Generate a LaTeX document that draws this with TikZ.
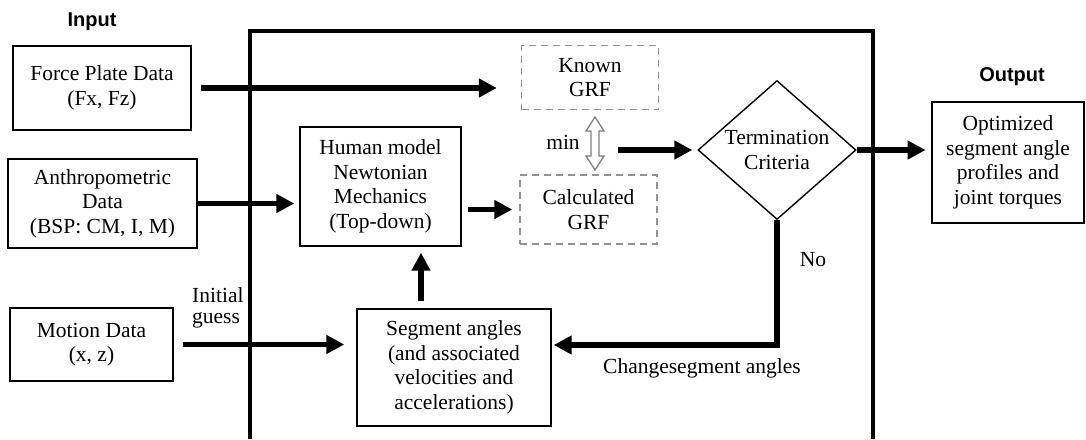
\documentclass[tikz,border=0pt]{standalone}
\usepackage{fontspec}
\setmainfont{Liberation Serif}
\newfontfamily\headfont{Liberation Sans}
\usetikzlibrary{arrows.meta,shapes.geometric}

\begin{document}
\begin{tikzpicture}[x=1pt,y=-1pt]
\tikzstyle{txt} = [font=\fontsize{21.5}{24.5}\selectfont, align=center]
\tikzstyle{box} = [txt, rectangle, draw=black, line width=1.4pt, inner sep=0pt]
\tikzstyle{grfbox} = [box, draw=gray!85, dash pattern=on 7pt off 5pt]
\tikzstyle{arr} = [line width=5.5pt, -{Triangle[length=18pt,width=18pt]}]
\tikzstyle{head} = [font=\headfont\bfseries\fontsize{20}{24}\selectfont]
\useasboundingbox (0,0) rectangle (1086,439);
% outer frame, open at the bottom
\draw[line width=4.5pt] (250,439) -- (250,31) -- (873,31) -- (873,439);
\node[head] (IN) at (92,22) {Input};
\node[head] (OUT) at (1012,77) {Output};
\node[box, minimum width=178pt, minimum height=84pt] (FP) at (102,88) {Force Plate Data\\(Fx, Fz)};
\node[box, minimum width=189pt, minimum height=89pt] (AN) at (102.5,203.5) {Anthropometric\\Data\\(BSP: CM, I, M)};
\node[box, minimum width=163pt, minimum height=73pt] (MD) at (91.5,344.5) {Motion Data\\(x, z)};
\node[box, minimum width=161pt, minimum height=119pt] (HM) at (380.5,186.5) {Human model\\Newtonian\\Mechanics\\(Top-down)};
\node[box, minimum width=194pt, minimum height=117pt] (SG) at (454,367.5) {Segment angles\\(and associated\\velocities and\\accelerations)};
\node[grfbox, minimum width=137pt, minimum height=64pt] (KN) at (590,77.5) {Known\\GRF};
\node[grfbox, minimum width=137pt, minimum height=69pt] (CG) at (588.5,209.5) {Calculated\\GRF};
\node[txt, diamond, draw, line width=1.4pt, aspect=1.14, inner sep=0pt, minimum width=158pt, minimum height=139pt] (TC) at (777,150) {Termination\\Criteria};
\node[box, line width=2.8pt, minimum width=152pt, minimum height=121pt] (OO) at (1008,162.5) {Optimized\\segment angle\\profiles and\\joint torques};
\coordinate (MC) at (595,143.5);
\coordinate (MO) at (618,150);

% hollow double arrow between the two GRF boxes
\draw[gray, line width=1.3pt, line join=miter] ([yshift=26.5pt]MC) -- ++(9,14) -- ++(-5,0) -- ++(0,25) -- ++(5,0) -- ++(-9,14) -- ++(-9,-14) -- ++(5,0) -- ++(0,-25) -- ++(-5,0) -- cycle;

\node[txt] (MINL) at (563,142) {min};
\node[txt] (NO) at (813,260) {No};
\node[txt] (CH) at (702,368) {Changesegment angles};
\node[txt, align=left, anchor=west, inner sep=0pt, font=\fontsize{21.5}{21}\selectfont] (IG) at (192,307.5) {Initial\\guess};

\draw[arr, shorten <=9pt, shorten >=24pt] (FP.east) -- (FP.east -| KN.west);
\draw[arr, shorten >=5pt] (AN.east) -- (AN.east -| HM.west);
\draw[arr, shorten <=6pt, shorten >=7pt] (HM.east |- CG.west) -- (CG.west);
\draw[arr, shorten <=9pt, shorten >=12pt] (MD.east) -- (MD.east -| SG.west);
\draw[arr, shorten <=7pt, shorten >=6pt] ([xshift=-33pt]SG.north) -- ([xshift=-33pt]SG.north |- HM.south);
\draw[arr, shorten >=5pt] (MO) -- (TC.west);
\draw[arr, shorten >=5pt] (TC.east) -- (TC.east -| OO.west);
\draw[arr, shorten >=2pt] (TC.south) |- ([yshift=22.5pt]SG.east);
\end{tikzpicture}
\end{document}
